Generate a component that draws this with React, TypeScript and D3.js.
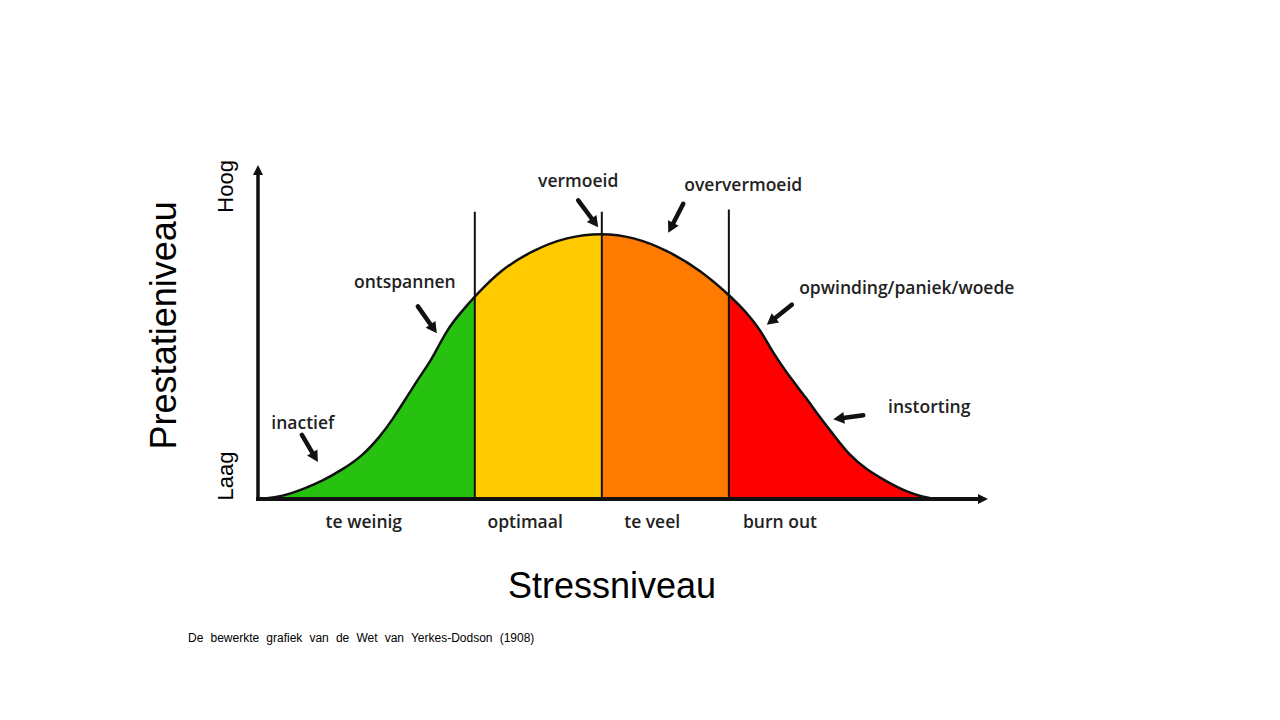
import React from "react";
import * as d3 from "d3";

// curve (stress 0-100, performance 0-125)
const curveX = [0.5, 3.3, 6.4, 8.8, 11.5, 14.3, 16.7, 18.4, 20.4, 22.2, 23.6, 24.5, 25.9, 27.7, 30, 33.2, 37.7, 42.3, 47.1, 51.4, 56, 60.6, 64.7, 67, 68.8, 70.1, 71.5, 73.3, 75.1, 76.9, 78.8, 81.1, 83.4, 86.2, 88.9, 91.1, 92.7];
const curveY = [0, 0.9, 3.9, 6.7, 10.9, 16.1, 23.3, 29.6, 38.2, 46, 51.5, 56, 63.3, 69.6, 76.7, 85.7, 93.2, 98.1, 99.6, 98.1, 93.2, 85.7, 76, 69.6, 63.3, 56.9, 50.9, 44, 37.8, 30.8, 24.2, 16.1, 10.9, 6.4, 2.6, 0.8, 0];

const zoneNames = ["te weinig", "optimaal", "te veel", "burn out"];
const zoneEdges = [0, 29.7, 47.1, 64.5, 100];
const zoneColors = ["#26c20f", "#ffcb00", "#ff7a00", "#fe0000"];
const zoneLabelX = [14.5, 36.6, 54, 71.5];
const dividerTop = [107.5, 107.5, 108.3];

const yTickLabels = ["Laag", "Hoog"];
const yTickValues = [8.6, 117];

const noteLabels = ["inactief", "ontspannen", "vermoeid", "oververmoeid", "opwinding/paniek/woede", "instorting"];
const noteAt = [8.2, 24.5, 46.6, 56.2, 69.7, 78.8];

// arrow head / tail / text offsets from the curve point, px
const noteLayout = [
  { head: [0, -21], tail: [-16, -48], text: [-15, -54] },
  { head: [0, -16], tail: [-19, -43], text: [-32, -61] },
  { head: [0, -6], tail: [-20, -33], text: [-20, -46] },
  { head: [0, -18], tail: [15, -47], text: [75, -60] },
  { head: [0, -17], tail: [25, -37], text: [140, -48] },
  { head: [0, -15], tail: [30, -19], text: [96, -21] },
];

const W = 1280;
const H = 720;

function arrowPath(x0: number, y0: number, x1: number, y1: number, len: number, half: number) {
  const dx = x1 - x0;
  const dy = y1 - y0;
  const d = Math.sqrt(dx * dx + dy * dy);
  const ux = dx / d;
  const uy = dy / d;
  const bx = x1 - ux * len;
  const by = y1 - uy * len;
  return {
    shaft: `M${x0},${y0}L${bx + ux * 1},${by + uy * 1}`,
    head: `M${x1},${y1}L${bx - uy * half},${by + ux * half}L${bx + uy * half},${by - ux * half}Z`,
  };
}

const App = () => {
  const x = d3.scaleLinear().domain([0, 100]).range([258, 988]);
  const y = d3.scaleLinear().domain([0, 125]).range([499, 165]);
  const curveAt = d3.scaleLinear().domain(curveX).range(curveY).clamp(true);

  const pts: [number, number][] = curveX.map((v, i) => [v, curveY[i]]);
  const shape = d3.curveBasis;
  const area = d3
    .area<[number, number]>()
    .x((d) => x(d[0]))
    .y0(y(0))
    .y1((d) => y(d[1]))
    .curve(shape);
  const line = d3
    .line<[number, number]>()
    .x((d) => x(d[0]))
    .y((d) => y(d[1]))
    .curve(shape);

  const xAxis = arrowPath(x(0) - 2, y(0), x(100), y(0), 10, 5);
  const yAxis = arrowPath(x(0), y(0) + 2, x(0), y(125), 10, 5);

  const labelFont = { fontFamily: "'Open Sans', sans-serif", fontWeight: 600, fontSize: 17.5, fill: "#222" };

  return (
    <svg width={W} height={H} style={{ position: "absolute", left: 0, top: 0, background: "#fff" }}>
      <defs>
        <clipPath id="under-curve">
          <path d={area(pts) || ""} />
        </clipPath>
      </defs>

      {/* zones */}
      <g clipPath="url(#under-curve)">
        {zoneNames.map((z, i) => (
          <rect
            key={z}
            x={x(zoneEdges[i])}
            width={x(zoneEdges[i + 1]) - x(zoneEdges[i])}
            y={y(125)}
            height={y(0) - y(125)}
            fill={zoneColors[i]}
          />
        ))}
      </g>

      {/* dividers */}
      {dividerTop.map((t, i) => (
        <line
          key={i}
          x1={x(zoneEdges[i + 1])}
          x2={x(zoneEdges[i + 1])}
          y1={y(t)}
          y2={y(0)}
          stroke="#111"
          strokeWidth={2}
        />
      ))}

      <path d={line(pts) || ""} fill="none" stroke="#111" strokeWidth={2.5} />

      {/* axes */}
      <path d={xAxis.shaft} stroke="#111" strokeWidth={4} fill="none" />
      <path d={xAxis.head} fill="#111" />
      <path d={yAxis.shaft} stroke="#111" strokeWidth={3.5} fill="none" />
      <path d={yAxis.head} fill="#111" />

      {/* zone labels */}
      {zoneNames.map((z, i) => (
        <text key={z} x={x(zoneLabelX[i])} y={528} textAnchor="middle" style={labelFont}>
          {z}
        </text>
      ))}

      {/* annotations */}
      {noteLabels.map((n, i) => {
        const cx = x(noteAt[i]);
        const cy = y(curveAt(noteAt[i]));
        const L = noteLayout[i];
        const a = arrowPath(cx + L.tail[0], cy + L.tail[1], cx + L.head[0], cy + L.head[1], 11, 6);
        return (
          <g key={n}>
            <path d={a.shaft} stroke="#111" strokeWidth={4.5} strokeLinecap="round" fill="none" />
            <path d={a.head} fill="#111" />
            <text x={cx + L.text[0]} y={cy + L.text[1]} textAnchor="middle" style={labelFont}>
              {n}
            </text>
          </g>
        );
      })}

      {/* y end labels */}
      {yTickLabels.map((t, i) => (
        <text
          key={t}
          transform={`translate(233,${y(yTickValues[i])}) rotate(-90)`}
          textAnchor="middle"
          style={{ fontFamily: "'Liberation Sans', Arial, sans-serif", fontSize: 22, fill: "#000" }}
        >
          {t}
        </text>
      ))}

      <text
        transform={`translate(176,${y(65)}) rotate(-90)`}
        textAnchor="middle"
        style={{ fontFamily: "'Liberation Sans', Arial, sans-serif", fontSize: 36, fill: "#000" }}
      >
        Prestatieniveau
      </text>
      <text
        x={612}
        y={598}
        textAnchor="middle"
        style={{ fontFamily: "'Liberation Sans', Arial, sans-serif", fontSize: 36, fill: "#000" }}
      >
        Stressniveau
      </text>
      <text
        x={188}
        y={642}
        style={{ fontFamily: "'Liberation Sans', Arial, sans-serif", fontSize: 12, fill: "#000", wordSpacing: 3.8 }}
      >
        De bewerkte grafiek van de Wet van Yerkes-Dodson (1908)
      </text>
    </svg>
  );
};

export default App;
